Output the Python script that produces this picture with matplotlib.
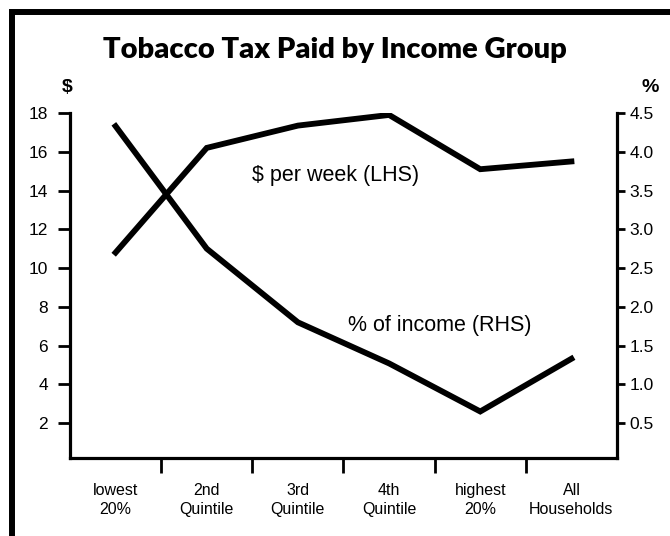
import numpy as np
import matplotlib
matplotlib.use("Agg")
import matplotlib.pyplot as plt
from matplotlib.patches import Rectangle

# datos
groups = ["lowest\n20%", "2nd\nQuintile", "3rd\nQuintile", "4th\nQuintile",
          "highest\n20%", "All\nHouseholds"]
dollars_per_week = [10.8, 16.2, 17.35, 17.9, 15.1, 15.5]
pct_of_income = [4.33, 2.75, 1.8, 1.27, 0.65, 1.33]

plt.rcParams["font.family"] = ["Liberation Sans", "DejaVu Sans"]

W, H = 670, 536
fig = plt.figure(figsize=(W / 100, H / 100), dpi=100)

# marco negro grueso
fig.patches.append(Rectangle((12 / W, -0.1), 1.2, (H - 12) / H + 0.1,
                             transform=fig.transFigure, fill=False,
                             edgecolor="black", linewidth=4.3))

ax = fig.add_axes([70 / W, (H - 458) / H, (617 - 70) / W, (458 - 113) / H])
x = np.arange(len(groups))
ax.plot(x, dollars_per_week, color="black", lw=4.2, solid_joinstyle="miter")
ax.set_xlim(-0.5, len(groups) - 0.5)
ax.set_ylim(0.2, 18)
ax.set_yticks(np.arange(2, 19, 2))
ax.set_xticks(x[:-1] + 0.5)
ax.set_xticklabels([])
ax.set_xticks(x, minor=True)
ax.set_xticklabels(groups, minor=True, fontsize=11.5, linespacing=1.35)
ax.tick_params(axis="x", which="major", length=11, width=2, direction="out")
ax.tick_params(axis="x", which="minor", length=0, pad=18)
ax.tick_params(axis="y", length=9, width=2, labelsize=12.5, pad=7)
for s in ["top", "right"]:
    ax.spines[s].set_visible(False)
for s in ["left", "bottom"]:
    ax.spines[s].set_linewidth(2.3)

# eje derecho: % del ingreso
ax2 = ax.twinx()
ax2.plot(x, pct_of_income, color="black", lw=4.2, solid_joinstyle="miter")
ax2.set_ylim(0.05, 4.5)
rticks = np.arange(0.5, 4.6, 0.5)
ax2.set_yticks(rticks)
ax2.set_yticklabels([f"{v:.1f}" for v in rticks])
ax2.spines["right"].set_linewidth(2.3)
for s in ["top", "left", "bottom"]:
    ax2.spines[s].set_visible(False)
ax2.tick_params(axis="y", length=6, width=2, labelsize=12.5, pad=3)

fig.text(335 / W, 1 - 50 / H, "Tobacco Tax Paid by Income Group",
         ha="center", va="center", fontsize=21, fontweight="heavy",
         family=["Lato", "DejaVu Sans"])
fig.text(67 / W, 1 - 88 / H, "$", ha="center", va="center", fontsize=14,
         fontweight="bold")
fig.text(650 / W, 1 - 88 / H, "%", ha="center", va="center", fontsize=14,
         fontweight="bold")
fig.text(252 / W, 1 - 175 / H, "$ per week (LHS)", ha="left", va="center",
         fontsize=15.5)
fig.text(348 / W, 1 - 326 / H, "% of income (RHS)", ha="left", va="center",
         fontsize=15.5)

fig.savefig("out.png", dpi=100)
